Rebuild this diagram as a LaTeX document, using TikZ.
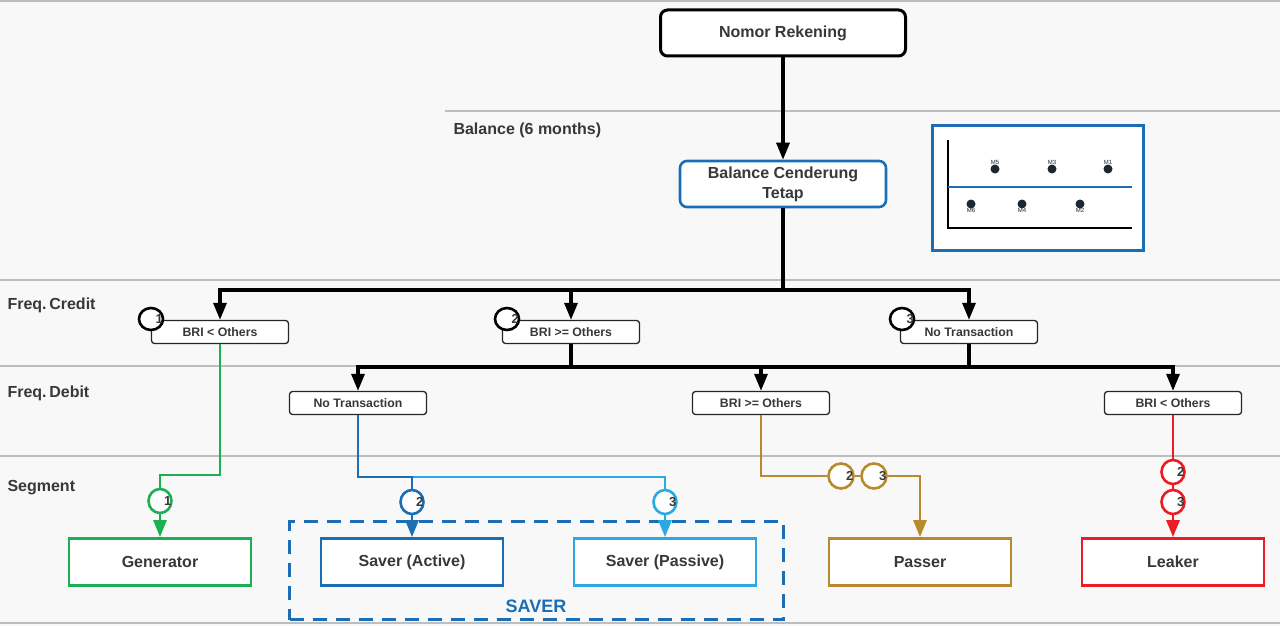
\documentclass[tikz,border=0pt]{standalone}
\usepackage{fontspec}
\setmainfont{Liberation Sans}
\usetikzlibrary{arrows.meta,shapes.geometric}
\definecolor{bgrow}{HTML}{F8F8F8}
\definecolor{rule}{HTML}{BEBEBE}
\definecolor{ink}{HTML}{383838}
\definecolor{gen}{HTML}{1EAF55}
\definecolor{saverA}{HTML}{1B6DB4}
\definecolor{saverP}{HTML}{2AA9E2}
\definecolor{pass}{HTML}{B98A2B}
\definecolor{leak}{HTML}{EC1C24}
\definecolor{dot}{HTML}{1C2733}

\begin{document}
\begin{tikzpicture}[x=1pt, y=-1pt, text=ink,
  >={Triangle[length=17pt,width=13pt]},
  flow/.style={line width=3.2pt},
  cflow/.style={draw=#1, line width=2.8pt},
  big/.style={font=\fontsize{16}{19}\selectfont\bfseries},
  small/.style={font=\fontsize{12.3}{14}\selectfont\bfseries},
  rowlbl/.style={anchor=west, big},
  titlebox/.style={draw=black, line width=3pt, rounded corners=7pt, fill=white,
    minimum width=245pt, minimum height=46pt, big},
  balbox/.style={draw=saverA, line width=2.6pt, rounded corners=7pt, fill=white,
    minimum width=206pt, minimum height=46pt, align=center, big},
  condbox/.style={draw=black!85, line width=1.3pt, rounded corners=3pt, fill=white,
    minimum width=137pt, minimum height=23pt, small},
  segbox/.style={draw=#1, line width=2.8pt, fill=white,
    minimum width=182pt, minimum height=47pt, big},
  ring/.style={ellipse, draw=#1, line width=2.6pt, fill=white,
    minimum width=23pt, minimum height=24pt, inner sep=0pt},
  digit/.style={inner sep=0pt, label distance=-9pt,
    font=\fontsize{13}{15}\selectfont\bfseries},
  monthlbl/.style={font=\fontsize{6}{7}\selectfont, inner sep=2pt}]

  \fill[bgrow] (0,0) rectangle (1280,626);
  \useasboundingbox (0,0) rectangle (1280,626);
  \draw[rule, line width=1.5pt] (0,1) -- (1280,1);
  \draw[rule, line width=1.5pt] (445,111) -- (1280,111);
  \draw[rule, line width=1.5pt] (0,280) -- (1280,280);
  \draw[rule, line width=1.5pt] (0,366) -- (1280,366);
  \draw[rule, line width=1.5pt] (0,456) -- (1280,456);
  \draw[rule, line width=1.5pt] (0,623) -- (1280,623);

  \node[rowlbl] (lblbal) at (450,130) {Balance (6 months)};
  \node[rowlbl] (lblcred) at (4,305) {Freq.\,Credit};
  \node[rowlbl] (lbldeb) at (4,393) {Freq.\,Debit};
  \node[rowlbl] (lblseg) at (4,488) {Segment};

  \node[titlebox] (acct) at (783,33) {Nomor Rekening};
  \node[balbox, font=\fontsize{16}{20}\selectfont\bfseries] (bal) at (783,184) {Balance Cenderung\\Tetap};
  \draw[flow, ->] (acct) -- (bal);

  \node[draw=saverA, line width=3pt, fill=white, minimum width=211pt,
    minimum height=125pt] (chart) at (1038,188) {};
  \draw[line width=2pt] (948,140) |- (1132,228);
  \draw[saverA, line width=2pt] (948,187) -- (1132,187);
  \foreach \m/\x/\y/\p in {M5/995/169/above, M3/1052/169/above, M1/1108/169/above,
    M6/971/204/below, M4/1022/204/below, M2/1080/204/below}
    \fill[dot] (\x,\y) circle (4.5pt) node[\p=2pt, monthlbl] {\m};

  \node[condbox] (credA) at (220,332) {BRI < Others};
  \node[condbox] (credB) at (571,332) {BRI >= Others};
  \node[condbox] (credC) at (969,332) {No Transaction};
  \coordinate (cbar) at (783,290);
  \draw[flow] (bal) -- (cbar);
  \draw[flow, ->] (cbar) -| (credA);
  \draw[flow, ->] (cbar) -| (credB);
  \draw[flow, ->] (cbar) -| (credC);
  \node[ring=black, minimum width=24pt, minimum height=22pt, label={[digit]east:1}] (ringC1) at (151,319) {};
  \node[ring=black, minimum width=24pt, minimum height=22pt, label={[digit]east:2}] (ringC2) at (507,319) {};
  \node[ring=black, minimum width=24pt, minimum height=22pt, label={[digit]east:3}] (ringC3) at (902,319) {};

  \node[condbox] (debA) at (358,403) {No Transaction};
  \node[condbox] (debB) at (761,403) {BRI >= Others};
  \node[condbox] (debC) at (1173,403) {BRI < Others};
  \coordinate (dbar) at (571,367);
  \draw[flow] (credB) -- (dbar);
  \draw[flow] (credC) |- (dbar);
  \draw[flow, ->] (dbar) -| (debA);
  \draw[flow, ->] (dbar) -| (debB);
  \draw[flow, ->] (dbar) -| (debC);

  \node[draw=saverA, line width=3pt, dash pattern=on 14pt off 9pt,
    minimum width=494pt, minimum height=98pt] (saver) at (536.5,570.5) {};
  \node[text=saverA, font=\fontsize{18}{20}\selectfont\bfseries] (saverlbl) at (536,606) {SAVER};

  \node[segbox=gen] (genr) at (160,562) {Generator};
  \node[segbox=saverA] (act) at (412,562) {Saver (Active)};
  \node[segbox=saverP] (pas) at (665,562) {Saver (Passive)};
  \node[segbox=pass] (passer) at (920,562) {Passer};
  \node[segbox=leak] (leaker) at (1173,562) {Leaker};

  \node[ring=gen, label={[digit]east:1}] (ringG) at (160,501) {};
  \node[ring=saverA, label={[digit]east:2}] (ringA) at (412,502) {};
  \node[ring=saverP, label={[digit]east:3}] (ringP) at (665,502) {};
  \node[ring=pass, minimum width=25pt, minimum height=25pt, label={[digit]east:2}] (ringS2) at (841,476) {};
  \node[ring=pass, minimum width=25pt, minimum height=25pt, label={[digit]east:3}] (ringS3) at (874,476) {};
  \node[ring=leak, label={[digit]east:2}] (ringL2) at (1173,472) {};
  \node[ring=leak, label={[digit]east:3}] (ringL3) at (1173,502) {};

  \coordinate (gbend) at (160,475);
  \draw[cflow=gen] (credA) |- (gbend) -- (ringG);
  \draw[cflow=gen, ->] (ringG) -- (genr);

  \coordinate (split) at (412,477);
  \draw[cflow=saverP] (split) -| (ringP);
  \draw[cflow=saverP, ->] (ringP) -- (pas);
  \draw[cflow=saverA] (debA) |- (split) -- (ringA);
  \draw[cflow=saverA, ->] (ringA) -- (act);

  \draw[cflow=pass] (debB) |- (ringS2);
  \draw[cflow=pass] (ringS2) -- (ringS3);
  \draw[cflow=pass, ->] (ringS3) -| (passer);

  \draw[cflow=leak] (debC) -- (ringL2);
  \draw[cflow=leak] (ringL2) -- (ringL3);
  \draw[cflow=leak, ->] (ringL3) -- (leaker);
\end{tikzpicture}
\end{document}
